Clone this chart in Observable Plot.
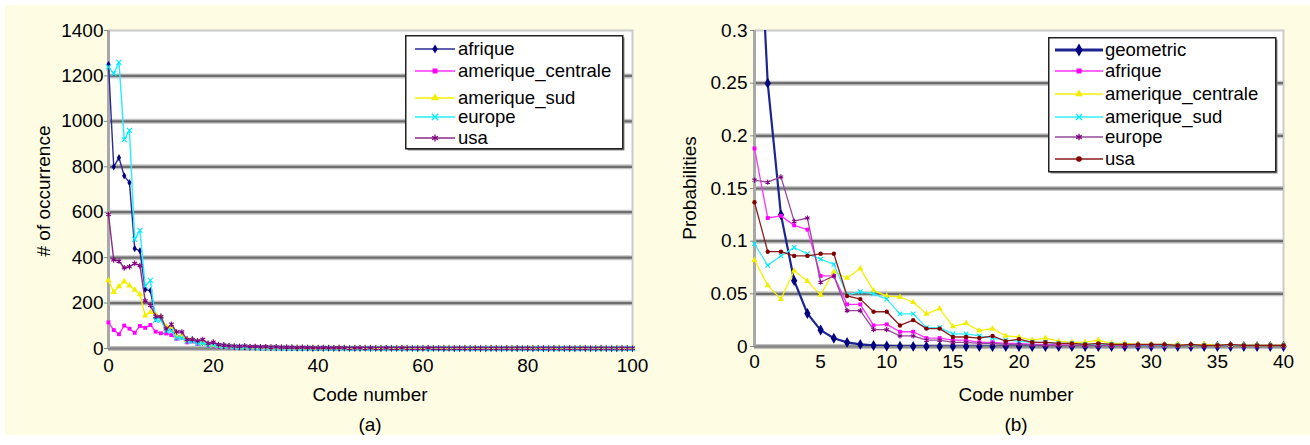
<!DOCTYPE html>
<html><head><meta charset="utf-8">
<script src="https://cdn.jsdelivr.net/npm/d3@7"></script>
<script src="https://cdn.jsdelivr.net/npm/@observablehq/plot@0.6"></script>
<style>
body{margin:0;width:1310px;height:445px;background:#fff;position:relative;overflow:hidden;font-family:"Liberation Sans",Arial,sans-serif;}
#bg{position:absolute;left:5px;top:5px;width:1305px;height:430px;background:#fefde4;}
.chart{position:absolute;top:0;}
.lbl{position:absolute;font-size:19px;color:#000;white-space:nowrap;transform:translate(-50%,-50%);}
.rot{transform:translate(-50%,-50%) rotate(-90deg);}
.legend{position:absolute;overflow:visible;}
</style></head>
<body>
<div id="bg"></div>
<div id="a" class="chart" style="left:0px"></div>
<div id="b" class="chart" style="left:650px"></div>
<div class="lbl rot" style="left:44px;top:191px"># of occurrence</div>
<div class="lbl" style="left:370px;top:395px">Code number</div>
<div class="lbl" style="left:370px;top:425px">(a)</div>
<div class="lbl rot" style="left:690px;top:188px">Probabilities</div>
<div class="lbl" style="left:1016px;top:395px">Code number</div>
<div class="lbl" style="left:1016px;top:425px">(b)</div>
<script>
// ---------- Panel (a): counts by code number 0..100 ----------
const xTicksA = [0, 20, 40, 60, 80, 100];
const yTicksA = [0, 200, 400, 600, 800, 1000, 1200, 1400];
const afriqueA = [1250,800,840,760,730,440,430,260,255,133, 140,93,93,53,53,40,40,27,27,20, 20,13,13,10,8,7,7,5,5,4, 4,3,3,3,2,3,2,2,2,1, 2,1,2,1,1,2,1,1,1,2, 1,1,0,1,1,1,0,1,1,0, 1,0,1,1,0,1,0,0,1,0, 1,0,0,1,0,0,1,0,0,1, 0,0,1,0,0,0,1,0,0,0, 1,0,0,0,1,0,0,0,0,1,0];
const centraleA = [115,81,63,101,87,69,99,91,104,74, 67,66,59,43,50,27,31,21,24,14, 13,8,11,7,6,6,8,4,5,4, 3,4,3,3,2,3,2,3,2,2, 2,3,2,2,1,2,2,1,2,1, 2,1,1,2,1,1,1,2,1,1, 1,2,1,1,1,1,2,1,1,1, 1,1,2,1,1,1,1,1,2,1, 1,1,1,2,1,1,1,1,1,2, 1,1,1,1,2,1,1,1,1,1,2];
const sudA = [300,248,273,295,277,258,238,145,160,150, 139,95,95,55,55,37,37,31,24,18, 15,12,10,9,8,7,6,5,5,4, 4,3,3,3,2,2,3,2,2,2, 2,1,2,1,2,1,1,2,1,1, 1,1,1,0,1,1,1,0,1,1, 0,1,1,0,1,0,1,0,1,0, 1,0,1,0,0,1,0,1,0,0, 1,0,0,1,0,0,1,0,0,0, 1,0,0,1,0,0,0,1,0,0,0];
const europeA = [1240,1210,1260,920,960,480,520,275,300,125, 125,78,78,47,47,31,31,23,23,16, 16,12,10,9,7,6,6,5,4,4, 3,3,3,2,2,2,2,1,2,1, 1,2,1,1,1,1,0,1,1,1, 0,1,1,0,1,0,1,0,1,0, 1,0,0,1,0,1,0,0,1,0, 0,1,0,0,1,0,0,1,0,0, 1,0,0,0,1,0,0,1,0,0, 0,1,0,0,0,1,0,0,0,1,0];
const usaA = [590,390,385,355,360,375,365,210,190,142, 140,86,107,73,73,39,39,34,40,22, 28,17,15,12,10,9,11,8,9,7, 8,6,7,5,6,5,4,5,4,4, 3,4,3,3,4,3,2,3,3,2, 3,2,2,3,2,2,3,2,2,2, 2,3,2,2,2,1,2,2,2,1, 2,2,1,2,2,1,2,1,2,1, 2,1,1,2,1,2,1,1,2,1, 1,2,1,1,2,1,1,1,2,1,1];

// ---------- Panel (b): probabilities by code number 0..40 ----------
const xTicksB = [0, 5, 10, 15, 20, 25, 30, 35, 40];
const yTicksB = [0, 0.05, 0.1, 0.15, 0.2, 0.25, 0.3];
const geometricB = [0.5,0.25,0.125,0.0625,0.0313,0.0156,0.0078,0.0039,0.002,0.001, 0.0005,0.0002,0.0001,0.0001,0,0,0,0,0,0, 0,0,0,0,0,0,0,0,0,0, 0,0,0,0,0,0,0,0,0,0,0];
const afriqueB = [0.188,0.122,0.124,0.115,0.111,0.067,0.067,0.040,0.040,0.020, 0.021,0.014,0.014,0.008,0.008,0.006,0.006,0.004,0.004,0.003, 0.003,0.002,0.002,0.0015,0.0012,0.001,0.001,0.0008,0.0008,0.0006, 0.0006,0.0005,0.0005,0.0004,0.0003,0.0003,0.0003,0.0002,0.0002,0.0002,0.0001];
const centraleB = [0.082,0.058,0.045,0.072,0.062,0.049,0.071,0.065,0.074,0.053, 0.048,0.047,0.042,0.031,0.036,0.019,0.022,0.015,0.017,0.010, 0.009,0.006,0.008,0.005,0.004,0.004,0.006,0.003,0.003,0.002, 0.002,0.002,0.002,0.001,0.002,0.001,0.001,0.001,0.001,0.001,0.001];
const sudB = [0.0975,0.077,0.086,0.094,0.088,0.083,0.078,0.049,0.052,0.050, 0.045,0.031,0.031,0.018,0.018,0.012,0.012,0.010,0.008,0.006, 0.005,0.004,0.004,0.003,0.003,0.002,0.002,0.002,0.002,0.001, 0.001,0.001,0.001,0.0008,0.0008,0.0007,0.0007,0.0006,0.0006,0.0005,0.0005];
const europeB = [0.158,0.156,0.161,0.119,0.122,0.061,0.067,0.034,0.034,0.016, 0.016,0.010,0.010,0.006,0.006,0.004,0.004,0.003,0.003,0.002, 0.002,0.0015,0.0013,0.001,0.001,0.0008,0.0008,0.0006,0.0006,0.0005, 0.0005,0.0004,0.0004,0.0003,0.0003,0.0003,0.0002,0.0002,0.0002,0.0002,0.0001];
const usaB = [0.137,0.090,0.090,0.086,0.086,0.088,0.088,0.048,0.045,0.033, 0.033,0.020,0.025,0.017,0.017,0.009,0.009,0.008,0.010,0.005, 0.007,0.004,0.004,0.003,0.003,0.002,0.003,0.002,0.002,0.002, 0.002,0.002,0.001,0.002,0.001,0.001,0.002,0.001,0.001,0.001,0.001];

const FONT = '"Liberation Sans", Arial, sans-serif';

const seriesA = [
  {name:"afrique", values:afriqueA, color:"#000080", line:"#2a2a96", symbol:"diamond", r:2.2, filled:true, w:1.4},
  {name:"amerique_centrale", values:centraleA, color:"#ff00ff", line:"#ff33ff", symbol:"square", r:2.2, filled:true, w:1.4},
  {name:"amerique_sud", values:sudA, color:"#f2ee00", line:"#f5f200", symbol:"triangle", r:2.4, filled:true, w:1.4},
  {name:"europe", values:europeA, color:"#00e8ff", line:"#22eeff", symbol:"times", r:2.4, filled:false, w:1.4},
  {name:"usa", values:usaA, color:"#800080", line:"#8a2a8a", symbol:"asterisk", r:2.6, filled:false, w:1.4}
];
const seriesB = [
  {name:"geometric", values:geometricB, color:"#000080", line:"#1c2590", symbol:"diamond", r:3.3, filled:true, w:2.2},
  {name:"afrique", values:afriqueB, color:"#ff00ff", line:"#ff33ff", symbol:"square", r:2.2, filled:true, w:1.3},
  {name:"amerique_centrale", values:centraleB, color:"#f2ee00", line:"#f5f200", symbol:"triangle", r:2.3, filled:true, w:1.3},
  {name:"amerique_sud", values:sudB, color:"#00e8ff", line:"#33eeff", symbol:"times", r:2.2, filled:false, w:1.3},
  {name:"europe", values:europeB, color:"#800080", line:"#93489a", symbol:"asterisk", r:2.4, filled:false, w:1.3},
  {name:"usa", values:usaB, color:"#800000", line:"#8b1a1a", symbol:"circle", r:2.2, filled:true, w:1.3}
];

function rows(values){ return values.map((v, i) => ({code: i, v})); }

function seriesMarks(series, ymax){
  const marks = [];
  for (const s of series){
    const data = rows(s.values);
    marks.push(Plot.line(data, {x:"code", y:"v", stroke:s.line, strokeWidth:s.w, clip:true}));
    const inRange = data.filter(d => d.v <= ymax);
    marks.push(Plot.dot(inRange, {x:"code", y:"v", symbol:s.symbol, r:s.r,
      fill: s.filled ? s.color : "none", stroke: s.filled ? "none" : s.color, strokeWidth: 1.1}));
  }
  return marks;
}

function frameMarks(grid){
  return [
    Plot.frame({fill:"white", stroke:"#cacaca", strokeWidth:2}),
    Plot.ruleY(grid, {stroke:"#c4c4c4", strokeWidth:5}),
    Plot.ruleY(grid, {stroke:"#6e6e6e", strokeWidth:2.2}),
    Plot.ruleY([0], {stroke:"#c0c0c0", strokeWidth:5}),
    Plot.ruleY([0], {stroke:"#858585", strokeWidth:2.5}),
    Plot.ruleX([0], {stroke:"#a8a8a8", strokeWidth:3})
  ];
}

const styleObj = {background:"transparent", fontFamily:FONT, fontSize:"19px", color:"#000", overflow:"visible"};

const plotA = Plot.plot({
  width:660, height:445, marginLeft:108, marginRight:28, marginTop:30, marginBottom:97,
  x:{domain:[0,100]}, y:{domain:[0,1400]},
  style:styleObj,
  marks:[
    ...frameMarks(yTicksA.filter(t => t > 0 && t < 1400)),
    ...seriesMarks(seriesA, 1400),
    Plot.axisX({ticks:xTicksA, tickSize:0, tickPadding:10, label:null, fontSize:19, tickFormat:d => String(d)}),
    Plot.axisY({ticks:yTicksA, tickSize:4, tickPadding:1, label:null, fontSize:19, stroke:"#888", tickFormat:d => String(d)})
  ]
});
document.getElementById("a").appendChild(plotA);

const plotB = Plot.plot({
  width:660, height:445, marginLeft:104, marginRight:27, marginTop:30, marginBottom:99,
  x:{domain:[0,40]}, y:{domain:[0,0.3]},
  style:styleObj,
  marks:[
    ...frameMarks(yTicksB.filter(t => t > 0 && t < 0.3)),
    ...seriesMarks(seriesB, 0.3),
    Plot.axisX({ticks:xTicksB, tickSize:0, tickPadding:8, label:null, fontSize:19, tickFormat:d => String(d)}),
    Plot.axisY({ticks:yTicksB, tickSize:4, tickPadding:3, label:null, fontSize:19, stroke:"#888", tickFormat:d => String(d)})
  ]
});
document.getElementById("b").appendChild(plotB);

// ---------- Legends ----------
const symMap = {diamond:d3.symbolDiamond, square:d3.symbolSquare, triangle:d3.symbolTriangle,
  times:d3.symbolTimes, asterisk:d3.symbolAsterisk, circle:d3.symbolCircle};
function legend(left, top, w, h, series, ys, x0, x1, tx){
  const svg = d3.select("body").append("svg").attr("class","legend")
    .style("left", left + "px").style("top", top + "px")
    .attr("width", w + 3).attr("height", h + 3);
  svg.append("rect").attr("x",2.5).attr("y",2.5).attr("width",w-2).attr("height",h-2).attr("fill","#888");
  svg.append("rect").attr("x",0.75).attr("y",0.75).attr("width",w-2).attr("height",h-2)
    .attr("fill","#fff").attr("stroke","#222").attr("stroke-width",1.5);
  series.forEach((s, i) => {
    const y = ys[i];
    svg.append("line").attr("x1",x0).attr("x2",x1).attr("y1",y).attr("y2",y)
      .attr("stroke", s.line).attr("stroke-width", s.name === "geometric" ? 3 : 1.6);
    svg.append("path").attr("transform", `translate(${(x0+x1)/2},${y})`)
      .attr("d", d3.symbol(symMap[s.symbol], Math.PI * (s.r + 0.6) * (s.r + 0.6))())
      .attr("fill", s.filled ? s.color : "none").attr("stroke", s.filled ? "none" : s.color).attr("stroke-width", 1.3);
    svg.append("text").attr("x", tx).attr("y", y).attr("dy","0.35em")
      .attr("font-family", FONT).attr("font-size", 18.5).attr("fill","#000").text(s.name);
  });
}
legend(405, 35, 219, 115, seriesA, [14, 36, 63, 82, 103], 10, 50, 53);
legend(1048, 37, 229, 136, seriesB, [13, 34, 57, 80, 100, 122], 7, 55, 57);
</script>
</body></html>
